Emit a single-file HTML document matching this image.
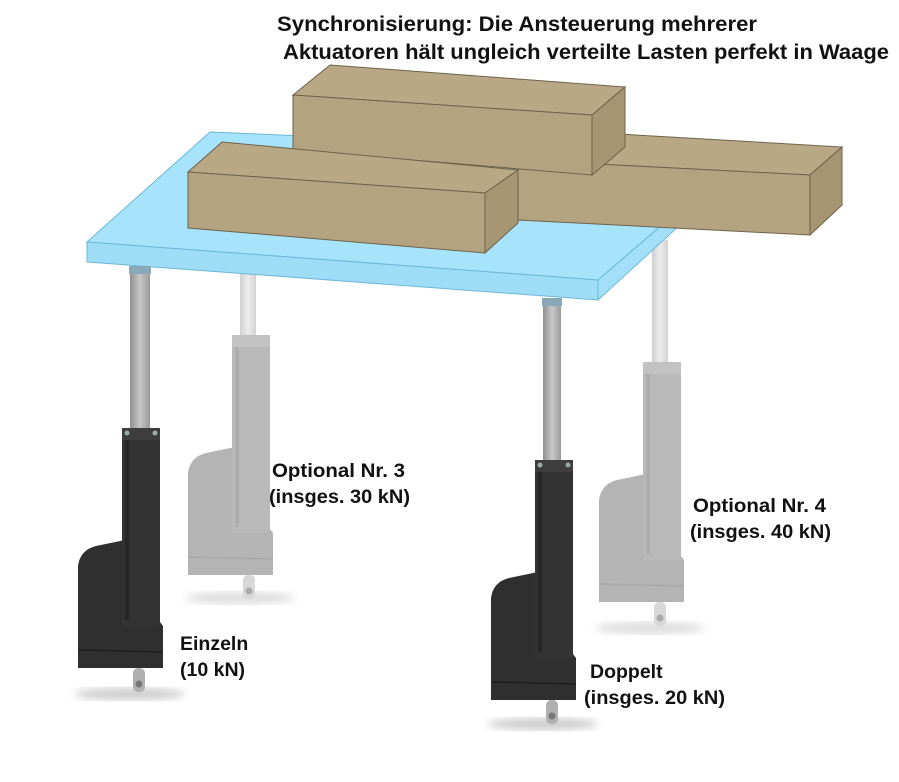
<!DOCTYPE html>
<html><head><meta charset="utf-8"><style>
html,body{margin:0;padding:0;background:#fff;}
svg{display:block;}
text{font-family:"Liberation Sans",Arial,sans-serif;font-weight:bold;fill:#111;}
</style></head><body>
<svg width="899" height="782" viewBox="0 0 899 782" xmlns="http://www.w3.org/2000/svg">
<defs>
<linearGradient id="rod" x1="0" x2="1"><stop offset="0" stop-color="#8f8f8f"/><stop offset="0.5" stop-color="#c8c8c8"/><stop offset="1" stop-color="#9a9a9a"/></linearGradient>
<linearGradient id="rodl" x1="0" x2="1"><stop offset="0" stop-color="#cfcfcf"/><stop offset="0.5" stop-color="#ececec"/><stop offset="1" stop-color="#d2d2d2"/></linearGradient>
<filter id="bl"><feGaussianBlur stdDeviation="4"/></filter>
<g id="actD">
  <path d="M78,668 L78,566 Q80,550 96,546 L125,540 L125,622 L160,622 L163,626 L163,668 Z" fill="#2f2f2f"/>
  <rect x="122" y="428" width="38" height="198" rx="2" fill="#333"/>
  <rect x="125" y="440" width="4" height="180" fill="#262626"/>
  <rect x="122" y="428" width="38" height="12" fill="#3d3d3d"/>
  <circle cx="127" cy="433" r="2.5" fill="#9aa"/><circle cx="155" cy="433" r="2.5" fill="#9aa"/>
  <line x1="78" y1="650" x2="163" y2="652" stroke="#1e1e1e" stroke-width="1.5"/>
  <rect x="133" y="668" width="12" height="24" rx="5" fill="#b0b0b0"/>
  <circle cx="139" cy="684" r="3.5" fill="#777"/>
</g>
<g id="actL">
  <path d="M78,668 L78,566 Q80,550 96,546 L125,540 L125,622 L160,622 L163,626 L163,668 Z" fill="#b4b4b4"/>
  <rect x="122" y="428" width="38" height="198" rx="2" fill="#b9b9b9"/>
  <rect x="125" y="440" width="4" height="180" fill="#adadad"/>
  <rect x="122" y="428" width="38" height="12" fill="#c2c2c2"/>
  <line x1="78" y1="650" x2="163" y2="652" stroke="#a8a8a8" stroke-width="1.5"/>
  <rect x="133" y="668" width="12" height="24" rx="5" fill="#d8d8d8"/>
  <circle cx="139" cy="684" r="3.5" fill="#aaa"/>
</g>
</defs>

<ellipse cx="240" cy="598" rx="55" ry="6" fill="#ddd" filter="url(#bl)"/>
<ellipse cx="650" cy="628" rx="55" ry="6" fill="#ddd" filter="url(#bl)"/>
<ellipse cx="130" cy="694" rx="55" ry="6" fill="#ccc" filter="url(#bl)"/>
<ellipse cx="543" cy="724" rx="55" ry="6" fill="#ccc" filter="url(#bl)"/>

<rect x="240" y="272" width="16" height="65" fill="url(#rodl)"/>
<use href="#actL" transform="translate(110,-93)"/>
<rect x="652" y="240" width="16" height="124" fill="url(#rodl)"/>
<use href="#actL" transform="translate(521,-66)"/>

<polygon points="87,242 210,132 640,150 662,225 598,280" fill="#a7e3fb" stroke="#6bb8d6" stroke-width="1"/>
<polygon points="87,242 598,280 598,300 87,262" fill="#9fdcf6" stroke="#6bb8d6" stroke-width="1"/>
<polygon points="598,280 662,225 680,225 598,300" fill="#a3e0f8" stroke="#6bb8d6" stroke-width="1"/>

<rect x="130" y="266" width="20" height="164" fill="url(#rod)"/>
<rect x="129" y="266" width="22" height="8" fill="#8aa9b8"/>
<use href="#actD"/>
<rect x="543" y="298" width="18" height="164" fill="url(#rod)"/>
<rect x="542" y="298" width="20" height="8" fill="#8aa9b8"/>
<use href="#actD" transform="translate(413,32)"/>

<g stroke="#6e6248" stroke-width="1">
<polygon points="518,160 550,130 842,147 810,175" fill="#b9a885"/>
<polygon points="518,160 810,175 810,235 518,220" fill="#b3a381"/>
<polygon points="810,175 842,147 842,205 810,235" fill="#a69572"/>

<polygon points="293,95 330,65 625,87 592,115" fill="#b9a885"/>
<polygon points="293,95 592,115 592,175 293,150" fill="#b3a381"/>
<polygon points="592,115 625,87 625,147 592,175" fill="#a69572"/>

<polygon points="188,172 222,142 518,170 485,193" fill="#b9a885"/>
<polygon points="188,172 485,193 485,253 188,228" fill="#b3a381"/>
<polygon points="485,193 518,170 518,223 485,253" fill="#a69572"/>
</g>

<text x="517" y="31" font-size="21.5" text-anchor="middle" textLength="480" lengthAdjust="spacingAndGlyphs">Synchronisierung: Die Ansteuerung mehrerer</text>
<text x="586" y="59" font-size="21.5" text-anchor="middle" textLength="606" lengthAdjust="spacingAndGlyphs">Aktuatoren hält ungleich verteilte Lasten perfekt in Waage</text>
<text x="272" y="477" font-size="19.5" textLength="133" lengthAdjust="spacingAndGlyphs">Optional Nr. 3</text>
<text x="269" y="503" font-size="19.5" textLength="141" lengthAdjust="spacingAndGlyphs">(insges. 30 kN)</text>
<text x="693" y="512" font-size="19.5" textLength="133" lengthAdjust="spacingAndGlyphs">Optional Nr. 4</text>
<text x="690" y="538" font-size="19.5" textLength="141" lengthAdjust="spacingAndGlyphs">(insges. 40 kN)</text>
<text x="180" y="650" font-size="19.5">Einzeln</text>
<text x="180" y="676" font-size="19.5">(10 kN)</text>
<text x="590" y="678" font-size="19.5">Doppelt</text>
<text x="584" y="704" font-size="19.5" textLength="141" lengthAdjust="spacingAndGlyphs">(insges. 20 kN)</text>
</svg>
</body></html>
